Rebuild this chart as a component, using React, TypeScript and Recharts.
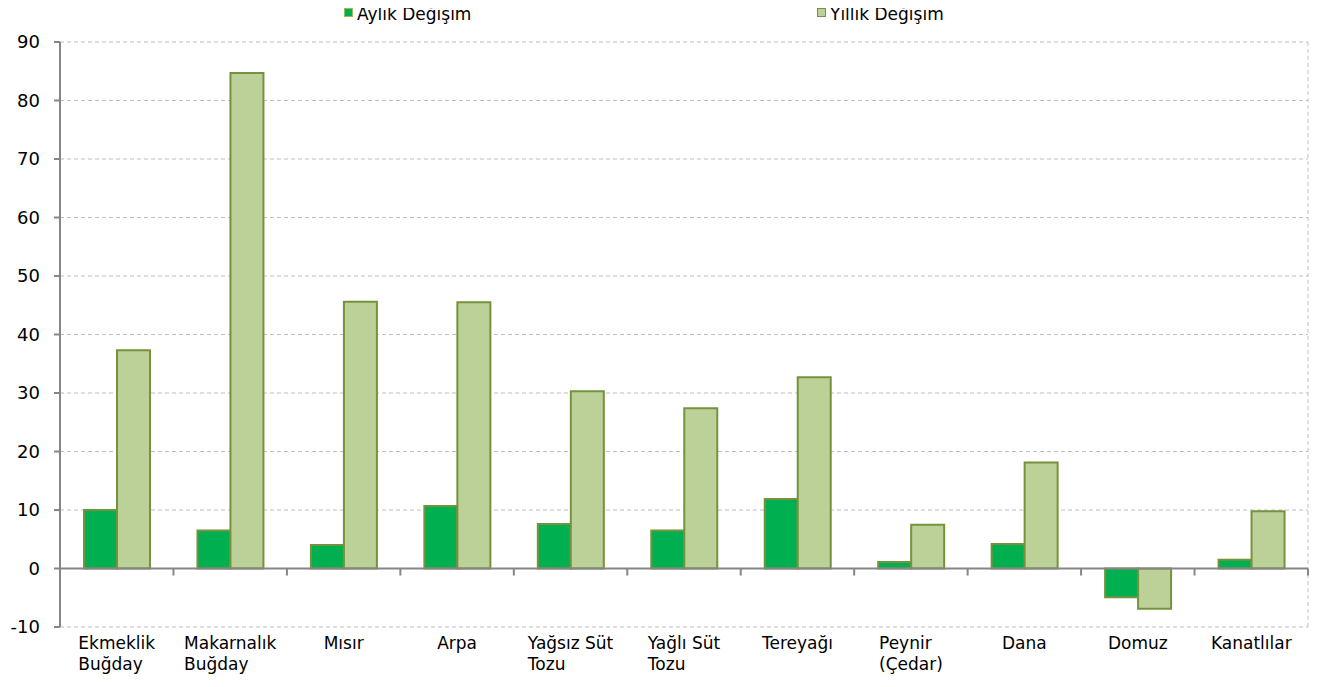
import React from "react";
import {
  BarChart,
  Bar,
  XAxis,
  YAxis,
  CartesianGrid,
  ReferenceLine,
} from "recharts";

const categories = [
  "Ekmeklik\nBuğday",
  "Makarnalık\nBuğday",
  "Mısır",
  "Arpa",
  "Yağsız Süt\nTozu",
  "Yağlı Süt\nTozu",
  "Tereyağı",
  "Peynir\n(Çedar)",
  "Dana",
  "Domuz",
  "Kanatlılar",
];
const monthly = [10.0, 6.5, 4.0, 10.7, 7.6, 6.5, 11.9, 1.1, 4.2, -4.9, 1.5];
const yearly = [37.3, 84.7, 45.6, 45.5, 30.3, 27.4, 32.7, 7.5, 18.1, -6.9, 9.8];
const yTicks = [-10, 0, 10, 20, 30, 40, 50, 60, 70, 80, 90];

const seriesNames = ["Aylık Değişim", "Yıllık Değişim"];

const data = categories.map((c, i) => ({
  name: c,
  aylik: monthly[i],
  yillik: yearly[i],
}));

const FONT = "'DejaVu Sans', Verdana, sans-serif";
const OLIVE = "#76923C";
const DARK = "#00B050";
const LIGHT = "#BBD198";

let ctx: CanvasRenderingContext2D | null = null;
function textWidth(s: string, size: number) {
  if (!ctx) ctx = document.createElement("canvas").getContext("2d");
  if (!ctx) return s.length * size * 0.6;
  ctx.font = `${size}px 'DejaVu Sans'`;
  return ctx.measureText(s).width;
}

// wrapped labels: lines left-aligned, block centred under the category
const CategoryTick = (props: any) => {
  const { x, y, payload } = props;
  const lines = String(payload.value).split("\n");
  const w = Math.max(...lines.map((l) => textWidth(l, 17)));
  const left = x - w / 2;
  return (
    <g>
      {lines.map((l, i) => (
        <text
          key={i}
          x={left}
          y={y + 14 + i * 21}
          textAnchor="start"
          fontSize={17}
          fontFamily={FONT}
          fill="#000"
        >
          {l}
        </text>
      ))}
    </g>
  );
};

// zero line with category separator ticks
const ZeroAxis = (props: any) => {
  const { x1, x2, y1 } = props;
  const n = categories.length;
  const step = (x2 - x1) / n;
  const ticks = [];
  for (let i = 1; i <= n; i++) {
    const tx = x1 + step * i;
    ticks.push(
      <line key={i} x1={tx} x2={tx} y1={y1} y2={y1 + 7} stroke="#868686" strokeWidth={2} />
    );
  }
  return (
    <g>
      <line x1={x1} x2={x2} y1={y1} y2={y1} stroke="#868686" strokeWidth={2} />
      {ticks}
    </g>
  );
};

const legendItems = [
  { label: seriesNames[0], fill: DARK, border: "#9BBB59", x: 344 },
  { label: seriesNames[1], fill: LIGHT, border: OLIVE, x: 817 },
];

export default function App() {
  return (
    <div style={{ margin: -8, position: "relative", width: 1321, height: 687, background: "#fff" }}>
      <BarChart
        width={1321}
        height={687}
        data={data}
        margin={{ top: 42, right: 13, bottom: 0, left: 0 }}
        barCategoryGap={24}
        barGap={0}
      >
        <CartesianGrid
          stroke="#BFBFBF"
          strokeDasharray="4 3"
          vertical={true}
          verticalCoordinatesGenerator={({ offset }: any) => [offset.left + offset.width]}
        />
        <XAxis
          dataKey="name"
          interval={0}
          axisLine={false}
          tickLine={false}
          height={60}
          tick={<CategoryTick />}
        />
        <YAxis
          domain={[-10, 90]}
          ticks={yTicks}
          width={60}
          interval={0}
          axisLine={{ stroke: "#868686", strokeWidth: 2 }}
          tickLine={{ stroke: "#868686", strokeWidth: 2 }}
          tickSize={6}
          tickMargin={14}
          tick={{ fontSize: 18, fontFamily: FONT, fill: "#000" }}
        />
        <Bar
          dataKey="aylik"
          name={seriesNames[0]}
          fill={DARK}
          stroke={OLIVE}
          strokeWidth={2}
          isAnimationActive={false}
        />
        <Bar
          dataKey="yillik"
          name={seriesNames[1]}
          fill={LIGHT}
          stroke={OLIVE}
          strokeWidth={2}
          isAnimationActive={false}
        />
        <ReferenceLine y={0} shape={<ZeroAxis />} />
      </BarChart>
      <svg
        width={1321}
        height={30}
        style={{ position: "absolute", left: 0, top: 0, zIndex: 2, pointerEvents: "none" }}
      >
        {legendItems.map((it) => (
          <g key={it.label}>
            <rect x={it.x + 0.5} y={8.5} width={8} height={8} fill={it.fill} stroke={it.border} strokeWidth={1} />
            <text x={it.x + 13} y={20} fontSize={17} fontFamily={FONT} fill="#000">
              {it.label}
            </text>
          </g>
        ))}
      </svg>
    </div>
  );
}
